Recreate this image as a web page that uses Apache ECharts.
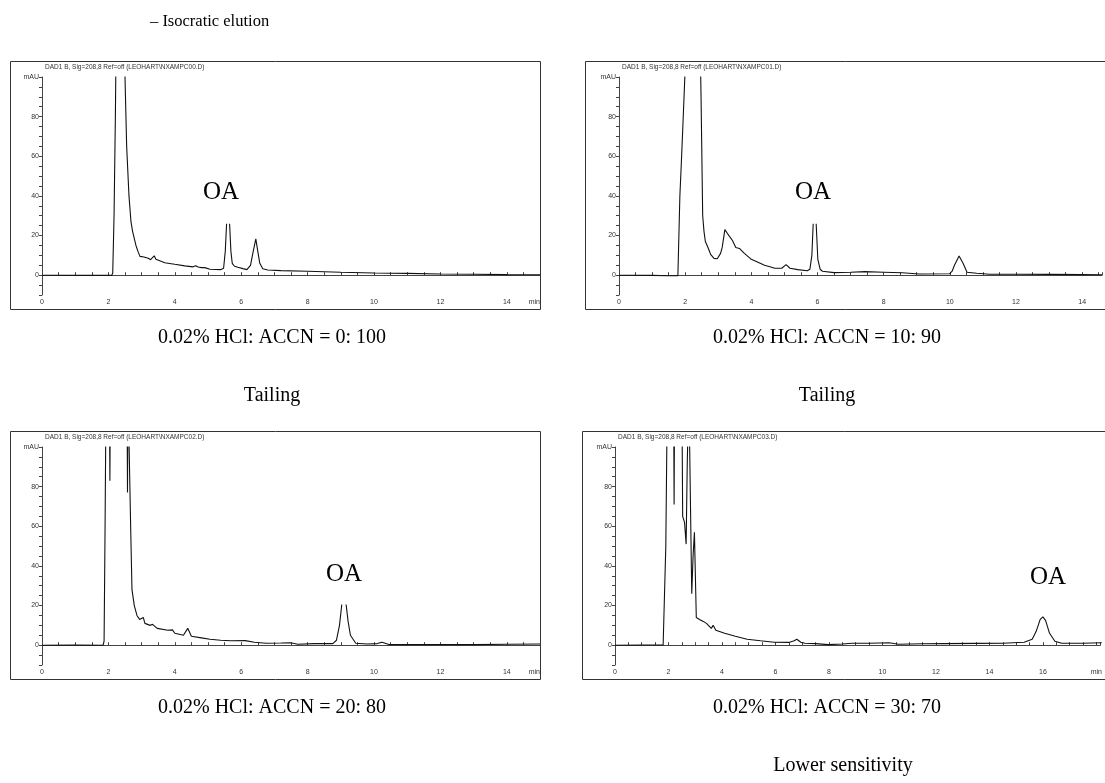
<!DOCTYPE html>
<html>
<head>
<meta charset="utf-8">
<script src="https://cdn.jsdelivr.net/npm/echarts@6/dist/echarts.min.js"></script>
<style>
  html, body { margin: 0; padding: 0; background: #fff; }
  #chart { width: 1105px; height: 783px; }
</style>
</head>
<body>
<div id="chart"></div>
<script>
// chromatogram traces, [time (min), signal (mAU)] -- '-' breaks the line where the OA label hides the peak top
const trace00 = [[0,0],[1,-0.1],[2.1,-0.1],[2.13,1],[2.17,30],[2.21,80],[2.24,130],[2.45,130],[2.5,100],[2.55,65],
  [2.62,40],[2.68,27],[2.73,22],[2.78,21.5],[2.83,15],[2.89,12],[2.95,9.5],[3.0,9],[3.07,9.2],[3.13,9.3],[3.2,8.5],
  [3.27,7.8],[3.33,8.6],[3.38,9.8],[3.43,8],[3.49,7],[3.7,6.3],[3.89,5.8],[4.0,5.5],[4.3,4.7],[4.55,4.2],[4.63,4.8],
  [4.7,4.1],[4.8,3.8],[4.9,3.8],[5.06,3],[5.38,2.8],[5.47,3.5],[5.52,12],[5.56,26],['-','-'],[5.65,26],[5.69,12],
  [5.73,6],[5.8,4.5],[5.9,4],[6.05,3.3],[6.17,2.8],[6.28,5],[6.35,11],[6.44,18.3],[6.5,12],[6.56,6],[6.65,3.2],
  [6.8,2.6],[7.2,2.3],[8,2],[9,1.5],[10,1.1],[11,0.9],[12,0.6],[13,0.5],[14,0.3],[15,0.2]];

const trace01 = [[0,0],[1,-0.1],[1.5,-0.3],[1.78,-0.3],[1.81,0.5],[1.84,40],[1.88,55],[1.93,75],[1.99,100],[2.03,130],
  [2.44,130],[2.48,90],[2.53,30],[2.57,22],[2.61,17],[2.69,14],[2.77,10.5],[2.87,8.5],[2.97,8.3],[3.07,11],[3.12,14],
  [3.2,23],[3.28,21],[3.43,17.5],[3.53,14],[3.64,13.5],[3.79,11],[4.0,8],[4.2,6.5],[4.4,5],[4.56,4.3],[4.71,3.5],
  [4.92,3.5],[5.05,5.3],[5.17,3.5],[5.4,2.8],[5.69,2.2],[5.77,3],[5.83,10],[5.87,26],['-','-'],[5.96,26],[6.01,8],
  [6.08,3],[6.15,2],[6.5,1.3],[7.0,1.5],[7.43,1.8],[8.0,1.5],[8.56,1.2],[9.07,0.6],[9.99,0.7],[10.07,2],[10.14,5],
  [10.28,9.7],[10.4,6],[10.52,1.5],[10.81,1],[11.2,0.5],[12,0.5],[13,0.4],[14,0.3],[14.6,0.2]];

const trace02 = [[0,0],[1,0.1],[1.84,0],[1.87,2],[1.9,60],[1.93,130],[2.03,130],[2.045,83],[2.06,130],[2.56,130],
  [2.575,77],[2.59,130],[2.64,130],[2.67,60],[2.71,28],[2.78,20],[2.86,15],[2.94,13],[2.99,12.5],[3.05,14],[3.1,11],
  [3.26,10],[3.33,10.5],[3.47,8.5],[3.79,7.5],[3.93,7.7],[4.0,6],[4.26,5],[4.39,8.5],[4.5,4.5],[4.8,3.7],[5.06,3],
  [5.38,2.5],[5.7,2.2],[6.12,2.3],[6.4,1.5],[6.75,1],[7.2,1.1],[7.49,1.2],[7.7,0.5],[8.2,0.8],[8.76,0.8],[8.87,2.5],
  [8.96,10],[9.03,20.5],['-','-'],[9.16,20.5],[9.22,12],[9.29,5],[9.45,1],[9.8,0.6],[10.1,0.8],[10.24,1.5],
  [10.45,0.3],[11,0.3],[12,0.3],[13,0.3],[14,0.5],[15,0.6]];

const trace03 = [[0,0],[1,0.1],[1.8,0.1],[1.84,1],[1.9,50],[1.96,130],[2.19,130],[2.21,71],[2.23,130],[2.5,130],
  [2.53,65],[2.6,62],[2.66,51],[2.7,90],[2.76,130],[2.81,130],[2.87,26],[2.92,45],[2.97,57],[3.04,14],[3.16,13],
  [3.3,12],[3.42,11],[3.6,8.5],[3.67,10],[3.77,7.5],[4.1,6],[4.5,4.5],[4.94,3],[5.44,2.2],[5.95,1.5],[6.5,1.4],
  [6.7,2.2],[6.8,3],[6.95,1.5],[7.1,1],[7.5,0.8],[7.97,0.3],[8.5,0.6],[8.86,1],[9.5,1],[10.25,1.2],[10.6,0.5],
  [11.5,0.7],[12.3,0.8],[13.5,0.9],[14.5,1],[15.3,1.5],[15.6,3],[15.75,7],[15.9,13],[16.0,14.3],[16.1,12.5],
  [16.25,6],[16.45,2],[16.7,1],[17.5,1],[18.2,1.2]];

const traces = [trace00, trace01, trace02, trace03];
const dataFiles = ['NXAMPC00.D', 'NXAMPC01.D', 'NXAMPC02.D', 'NXAMPC03.D'];
const conditions = ['0.02% HCl: ACCN = 0: 100', '0.02% HCl: ACCN = 10: 90',
  '0.02% HCl: ACCN = 20: 80', '0.02% HCl: ACCN = 30: 70'];
const notes = ['Tailing', 'Tailing', '', 'Lower sensitivity'];
const xMax = [15, 14.6, 15, 18.15];
const yLabels = [0, 20, 40, 60, 80];

// panel placement (pixels)
const panels = [
  {gx: 42,  gy: 77,  gw: 498, frame: [10, 61, 530, 248],  oa: [221, 192], cap: [272, 338], note: [272, 396]},
  {gx: 619, gy: 77,  gw: 486, frame: [585, 61, 600, 248], oa: [813, 192], cap: [827, 338], note: [827, 396]},
  {gx: 42,  gy: 447, gw: 498, frame: [10, 431, 530, 248], oa: [344, 574], cap: [272, 708], note: [272, 766]},
  {gx: 615, gy: 447, gw: 490, frame: [582, 431, 600, 248], oa: [1048, 577], cap: [827, 708], note: [843, 766]}
];

const axisGray = '#444';
const small = {color: '#333', fontSize: 7, fontFamily: 'Liberation Sans'};
const serif = '"Liberation Serif", "Times New Roman", serif';

const grids = [], xAxes = [], yAxes = [], series = [], graphics = [];

panels.forEach((p, i) => {
  grids.push({left: p.gx, top: p.gy, width: p.gw, height: 218});
  const lastX = xMax[i];
  xAxes.push({
    type: 'value', gridIndex: i, min: 0, max: lastX, interval: 0.5,
    axisLine: {lineStyle: {color: axisGray, width: 1}},
    axisTick: {inside: true, length: 3, lineStyle: {color: axisGray}},
    splitLine: {show: false},
    axisLabel: Object.assign({}, small, {
      margin: 4, showMaxLabel: true, alignMaxLabel: 'right',
      formatter: v => {
        if (Math.abs(v - 15) < 1e-6 && lastX === 15) return 'min';
        if (Math.abs(v - 18) < 1e-6) return 'min';
        return (Math.abs(v % 2) < 1e-6 && v < 17) ? String(v) : '';
      }
    })
  });
  yAxes.push({
    type: 'value', gridIndex: i, min: -10, max: 100, interval: 5,
    axisLine: {show: true, lineStyle: {color: axisGray, width: 1}},
    axisTick: {show: true, length: 3, lineStyle: {color: axisGray}},
    splitLine: {show: false},
    axisLabel: Object.assign({}, small, {
      margin: 3, showMaxLabel: true,
      formatter: v => v === 100 ? 'mAU' : (yLabels.indexOf(v) >= 0 ? String(v) : '')
    })
  });
  series.push({
    type: 'line', xAxisIndex: i, yAxisIndex: i, data: traces[i],
    showSymbol: false, connectNulls: false, clip: true, silent: true,
    lineStyle: {color: '#111', width: 1.1}
  });

  // panel frame
  graphics.push({
    type: 'rect', z: 1,
    shape: {x: p.frame[0] + 0.5, y: p.frame[1] + 0.5, width: p.frame[2], height: p.frame[3]},
    style: {fill: null, stroke: '#333', lineWidth: 1}
  });
  // instrument header
  graphics.push({
    type: 'text', x: p.gx + 3, y: p.frame[1] + 6,
    style: {text: 'DAD1 B, Sig=208,8 Ref=off (LEOHART\\' + dataFiles[i] + ')', fill: '#333',
      font: '6.5px "Liberation Sans"', textVerticalAlign: 'middle'}
  });
  // OA label
  graphics.push({
    type: 'text', x: p.oa[0], y: p.oa[1], z: 10,
    style: {text: 'OA', fill: '#000', font: '25px ' + serif, textAlign: 'center', textVerticalAlign: 'middle'}
  });
  graphics.push({
    type: 'text', x: p.cap[0], y: p.cap[1],
    style: {text: conditions[i], fill: '#000', font: '20px ' + serif, textAlign: 'center', textVerticalAlign: 'middle'}
  });
  if (notes[i]) {
    graphics.push({
      type: 'text', x: p.note[0], y: p.note[1],
      style: {text: notes[i], fill: '#000', font: '20px ' + serif, textAlign: 'center', textVerticalAlign: 'middle'}
    });
  }
});

graphics.push({
  type: 'text', x: 150, y: 22,
  style: {text: '– Isocratic elution', fill: '#000', font: '16.5px ' + serif, textVerticalAlign: 'middle'}
});

const myChart = echarts.init(document.getElementById('chart'), null, {renderer: 'canvas'});
myChart.setOption({
  animation: false,
  backgroundColor: '#fff',
  grid: grids,
  xAxis: xAxes,
  yAxis: yAxes,
  series: series,
  graphic: graphics
});
</script>
</body>
</html>
